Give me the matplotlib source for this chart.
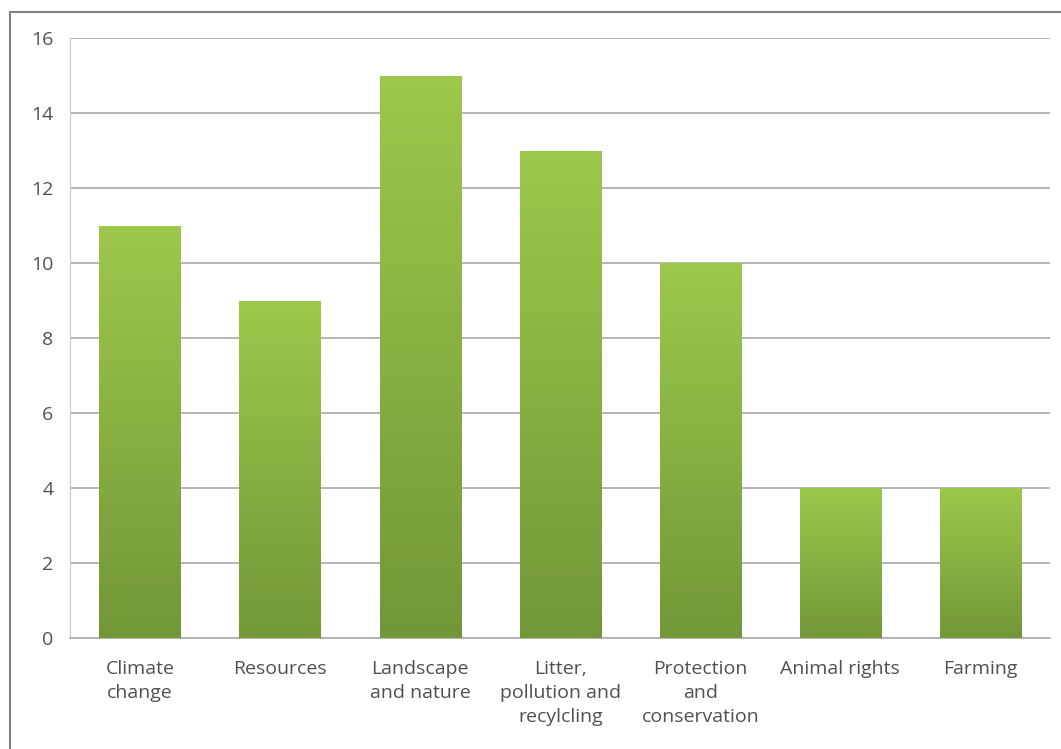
import numpy as np
import matplotlib.pyplot as plt
from matplotlib.colors import LinearSegmentedColormap
from matplotlib.patches import Rectangle

categories = ['Climate\nchange', 'Resources', 'Landscape\nand nature',
              'Litter,\npollution and\nrecylcling', 'Protection\nand\nconservation',
              'Animal rights', 'Farming']
values = [11, 9, 15, 13, 10, 4, 4]
yticks = [0, 2, 4, 6, 8, 10, 12, 14, 16]

plt.rcParams['font.family'] = ['Open Sans', 'DejaVu Sans']

fig = plt.figure(figsize=(10.61, 7.49), dpi=100)
ax = fig.add_axes([0.066, 0.148, 0.924, 0.801])

# green gradient, dark at the bottom of each bar, light at the top
cmap = LinearSegmentedColormap.from_list('grn', ['#729738', '#9dc84b'])
grad = np.linspace(0, 1, 256).reshape(-1, 1)

width = 0.58
x = np.arange(len(values))
bars = ax.bar(x, values, width=width, color='none', edgecolor='none', zorder=3)
for b in bars:
    x0, y0 = b.get_x(), b.get_y()
    w, h = b.get_width(), b.get_height()
    im = ax.imshow(grad, cmap=cmap, origin='lower', aspect='auto',
                   extent=[x0, x0 + w, y0, y0 + h], zorder=3)
    im.set_clip_path(b)

ax.set_xlim(-0.5, len(values) - 0.5)
ax.set_ylim(0, 16)
ax.set_yticks(yticks)
ax.set_xticks(x)
ax.set_xticklabels(categories, fontsize=14, color='#505050', linespacing=1.4)
ax.tick_params(axis='y', labelsize=14, labelcolor='#505050', length=0, pad=12)
ax.tick_params(axis='x', length=0, pad=16)
ax.yaxis.grid(True, color='#b0b0b0', linewidth=1.3)
ax.set_axisbelow(True)
for s in ['top', 'right']:
    ax.spines[s].set_visible(False)
ax.spines['left'].set_color('#c8c8c8')
ax.spines['bottom'].set_color('#b0b0b0')
ax.spines['bottom'].set_linewidth(1.3)

# outer frame (top and left edges visible)
fig.add_artist(Rectangle((0.0095, -0.01), 1.1, 0.994, transform=fig.transFigure,
                         fill=False, edgecolor='#808080', linewidth=1.5))

fig.savefig('out.png', dpi=100)
